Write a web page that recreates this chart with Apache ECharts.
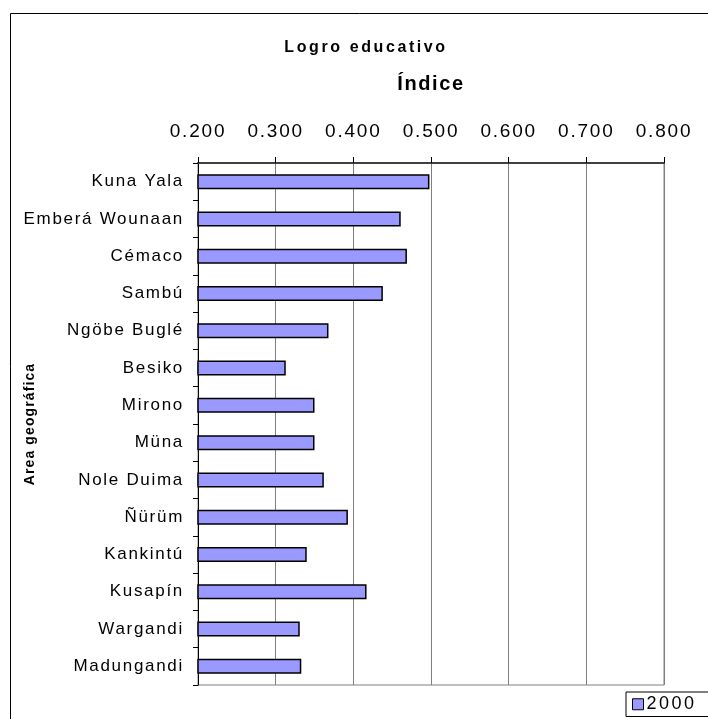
<!DOCTYPE html>
<html>
<head>
<meta charset="utf-8">
<script src="https://cdn.jsdelivr.net/npm/echarts@6/dist/echarts.min.js"></script>
<style>
html,body{margin:0;padding:0;background:#fff;}
#chart{width:708px;height:719px;}
</style>
</head>
<body>
<div id="chart"></div>
<script>
const categories = ["Kuna Yala","Emberá Wounaan","Cémaco","Sambú","Ngöbe Buglé","Besiko","Mirono","Müna","Nole Duima","Ñürüm","Kankintú","Kusapín","Wargandi","Madungandi"];
const values2000 = [0.498,0.461,0.469,0.438,0.368,0.313,0.350,0.350,0.362,0.393,0.340,0.417,0.331,0.333];
const seriesName = "2000";
const chartTitle = "Logro educativo";
const xName = "Índice";
const yName = "Area geográfica";

// Emulate the wide letter spacing of the original rendering (canvas letterSpacing, keyed by font)
(function(){
  const proto = CanvasRenderingContext2D.prototype;
  if (!('letterSpacing' in proto)) return;
  const desc = Object.getOwnPropertyDescriptor(proto, 'font');
  if (!desc || !desc.set) return;
  Object.defineProperty(proto, 'font', {
    configurable:true,
    get(){ return desc.get.call(this); },
    set(v){
      desc.set.call(this, v);
      const m = /(\d+(?:\.\d+)?)px/.exec(v || '');
      const size = m ? parseFloat(m[1]) : 12;
      const bold = /bold|[6-9]00/.test(v || '');
      let s = 0;
      if (bold) {
        if (size === 16) s = 2.6;
        else if (size === 20) s = 1.6;
        else if (size === 14) s = 1.1;
      } else {
        if (size === 17) s = 1.7;
        else if (size === 19) s = 1.8;
        else if (size === 18) s = 2.5;
      }
      try { this.letterSpacing = s + 'px'; } catch(e) {}
    }
  });
})();

const FONT = "'Liberation Sans', Arial, sans-serif";
const chart = echarts.init(document.getElementById('chart'), null, {renderer:'canvas'});
chart.setOption({
  animation:false,
  backgroundColor:'#fff',
  textStyle:{fontFamily:FONT},
  graphic:[
    {type:'rect', shape:{x:10.5,y:13.5,width:720,height:720}, style:{fill:'none',stroke:'#000',lineWidth:1}, silent:true, z:-10},
    {type:'text', x:366, y:48, style:{text:chartTitle, fontFamily:FONT, fontSize:16, fontWeight:'bold', fill:'#000', align:'center', verticalAlign:'middle'}}
  ],
  legend:{
    left:626, top:692,
    data:[{name:seriesName, icon:'rect'}],
    borderColor:'#000', borderWidth:1,
    padding:[2,24,2,6],
    itemWidth:11, itemHeight:11, itemGap:4,
    textStyle:{fontFamily:FONT, fontSize:18, color:'#000', padding:[0,0,0,-2]},
    itemStyle:{borderColor:'#000', borderWidth:1}
  },
  grid:{left:198, right:44, top:163, bottom:34, show:true, borderColor:'#808080', borderWidth:1, containLabel:false, outerBoundsMode:'none'},
  xAxis:{
    type:'value', position:'top', min:0.2, max:0.8, interval:0.1,
    name:xName, nameLocation:'middle', nameGap:68, nameMoveOverlap:false,
    nameTextStyle:{fontFamily:FONT, fontSize:20, fontWeight:'bold', color:'#000'},
    axisLine:{show:true, lineStyle:{color:'#404040', width:2}},
    axisTick:{show:true, inside:false, length:6, lineStyle:{color:'#000', width:1}},
    axisLabel:{formatter:v=>v.toFixed(3), fontFamily:FONT, fontSize:19, color:'#000', margin:21},
    splitLine:{show:true, lineStyle:{color:'#808080', width:1}}
  },
  yAxis:{
    type:'category', data:categories, inverse:true,
    name:yName, nameLocation:'middle', nameGap:160, nameRotate:90, nameMoveOverlap:false,
    nameTextStyle:{fontFamily:FONT, fontSize:14, fontWeight:'bold', color:'#000'},
    axisLine:{show:true, lineStyle:{color:'#000', width:1}},
    axisTick:{show:true, inside:false, length:5, alignWithLabel:false, lineStyle:{color:'#000'}},
    axisLabel:{fontFamily:FONT, fontSize:17, color:'#000', margin:14},
    splitLine:{show:false}
  },
  series:[{
    name:seriesName, type:'bar', data:values2000, barWidth:15,
    itemStyle:{color:'#9999FF', borderColor:'#000', borderWidth:1.5}
  }]
});
</script>
</body>
</html>
